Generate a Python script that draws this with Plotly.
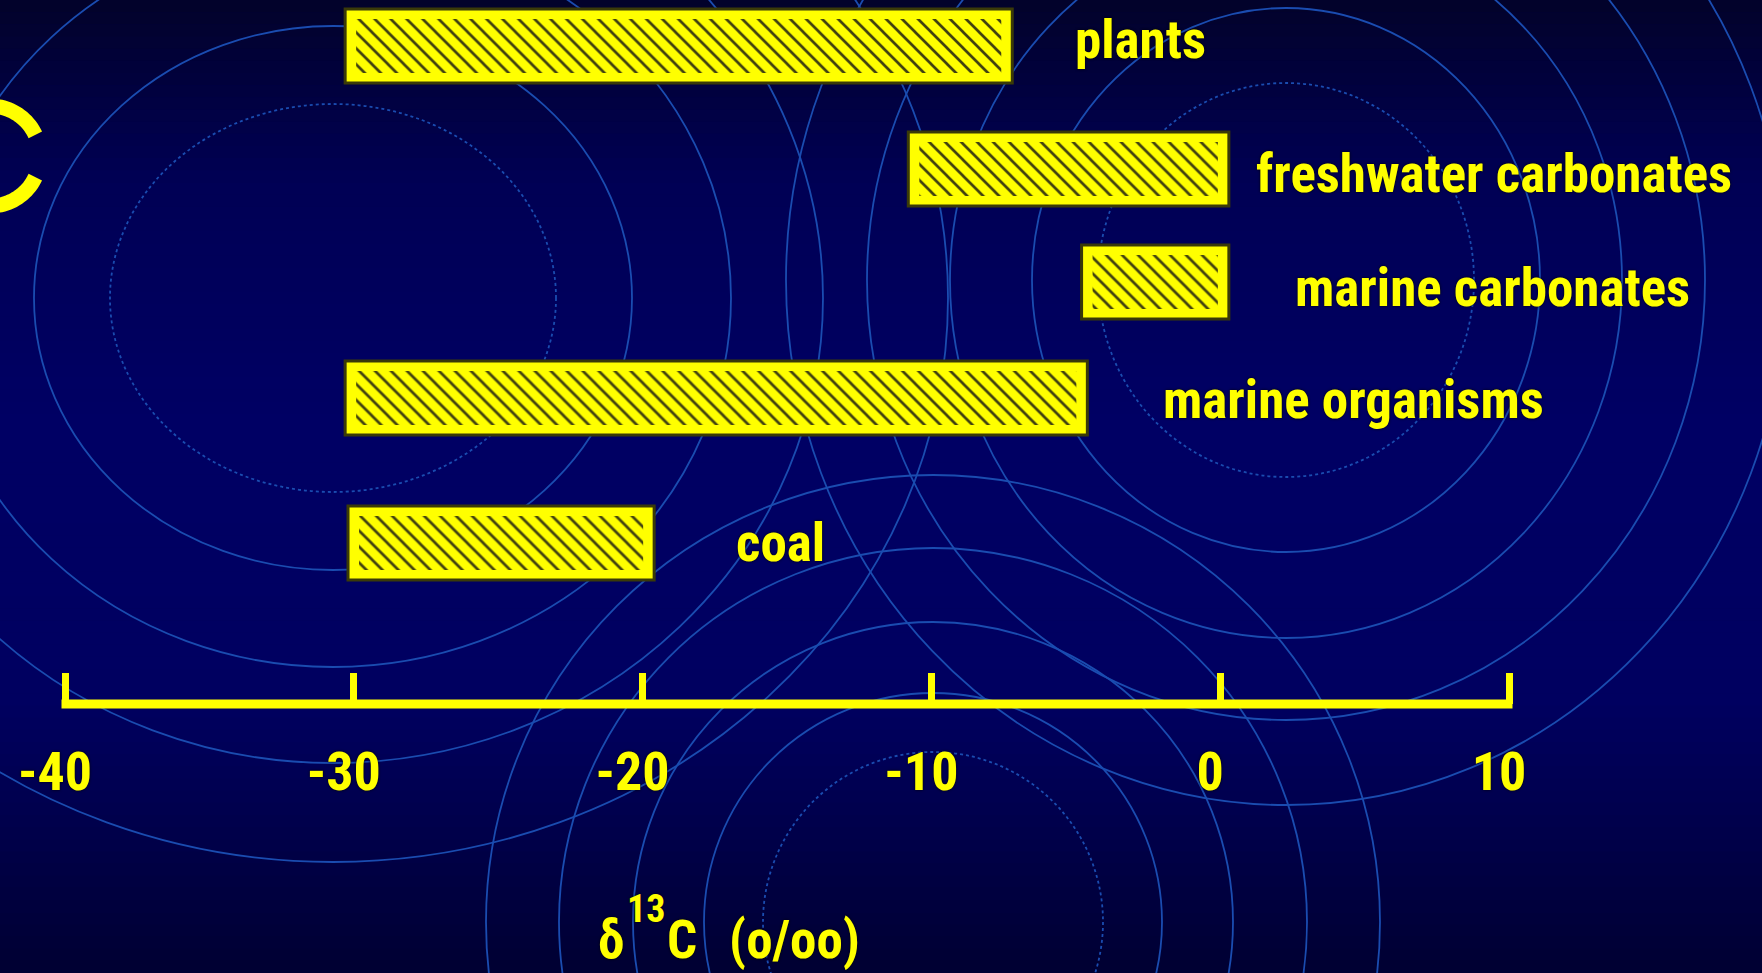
import math
import plotly.graph_objects as go

W, H = 1762, 973

# ---- data -------------------------------------------------------------
categories = ["plants", "freshwater carbonates", "marine carbonates",
              "marine organisms", "coal"]
delta_low = [-30.3, -10.8, -4.8, -30.3, -30.2]    # δ13C range, lower end (‰)
delta_high = [-7.2, 0.3, 0.3, -4.6, -19.6]        # δ13C range, upper end (‰)
tick_values = [-40, -30, -20, -10, 0, 10]
tick_labels = ["-40", "-30", "-20", "-10", "0", "10"]

# ---- layout constants (pixels from top-left of the page) -------------
row_center_px = [46, 169, 282, 398, 543]
bar_height_px = 74
label_left_px = [1077, 1258, 1297, 1165, 738]
label_mid_px = [42, 176, 290, 402, 545]
axis_left_px, axis_right_px, axis_y_px = 65, 1509, 704

YELLOW = "#ffff00"
FONT = "Roboto Condensed, Open Sans Condensed, Liberation Sans, sans-serif"
HALO = "0px 0px 3px rgba(0,0,0,0.95)"


def px(x):
    return x / W


def py(y):
    return 1 - y / H


fig = go.Figure()

# outer solid frame of each range bar
span = [h - l for l, h in zip(delta_low, delta_high)]
fig.add_trace(go.Bar(
    orientation="h", y=row_center_px, x=span, base=delta_low,
    width=bar_height_px, name="range",
    marker=dict(color=YELLOW, line=dict(color="#3a3a08", width=3)),
    hoverinfo="skip", showlegend=False,
))

# inner hatched panel
units_per_px = (tick_values[-1] - tick_values[0]) / (axis_right_px - axis_left_px)
inset = 11 * units_per_px
fig.add_trace(go.Bar(
    orientation="h", y=row_center_px,
    x=[s - 2 * inset for s in span],
    base=[l + inset for l in delta_low],
    width=bar_height_px - 20, name="hatch",
    marker=dict(
        color=YELLOW, line=dict(width=0),
        pattern=dict(shape="\\", size=11.3, solidity=0.24,
                     fgcolor="#404010", bgcolor=YELLOW, fillmode="replace"),
    ),
    hoverinfo="skip", showlegend=False,
))

shapes = []

# vertical background gradient
stops = [(0, (2, 2, 42)), (180, (0, 0, 84)), (420, (0, 0, 100)),
         (700, (0, 0, 96)), (973, (0, 0, 50))]
n_bands = 80
for i in range(n_bands):
    y0 = H * i / n_bands
    y1 = H * (i + 1) / n_bands
    ym = (y0 + y1) / 2
    for (a, ca), (b, cb) in zip(stops[:-1], stops[1:]):
        if a <= ym <= b:
            t = (ym - a) / (b - a)
            c = tuple(round(ca[k] + (cb[k] - ca[k]) * t) for k in range(3))
            break
    shapes.append(dict(type="rect", xref="paper", yref="paper", layer="below",
                       x0=0, x1=1, y0=py(y1 + 0.5), y1=py(y0),
                       fillcolor="rgb(%d,%d,%d)" % c, line=dict(width=0)))

# decorative concentric rings: (center, [(rx, ry, dotted), ...])
ring_sets = [
    ((333, 298), [(223, 194, True), (299, 272, False), (398, 369, False),
                  (490, 465, False), (615, 564, False)]),
    ((1286, 280), [(188, 197, True), (254, 272, False), (336, 358, False),
                   (419, 440, False), (500, 525, False)]),
    ((933, 922), [(170, 170, True), (229, 229, False), (300, 300, False),
                  (374, 374, False), (447, 447, False)]),
]
for (cx, cy), rings in ring_sets:
    for rx, ry, dotted in rings:
        shapes.append(dict(
            type="circle", xref="paper", yref="paper", layer="below",
            x0=px(cx - rx), x1=px(cx + rx), y0=py(cy + ry), y1=py(cy - ry),
            line=dict(color="rgb(26,76,176)", width=1.8,
                      dash="dot" if dotted else "solid"),
        ))

# partial yellow letter arc at the left edge
cx, cy, r = -10, 156, 50
pts = []
for k in range(0, 101):
    ang = math.radians(25 + (335 - 25) * k / 100)
    pts.append((cx + r * math.cos(ang), cy - r * math.sin(ang)))
path = "M " + " L ".join("%.5f,%.5f" % (px(x), py(y)) for x, y in pts)
shapes.append(dict(type="path", xref="paper", yref="paper", path=path,
                   line=dict(color=YELLOW, width=15)))

# scale bar (axis line) between the first and last tick
shapes.append(dict(type="line", xref="paper", yref="paper",
                   x0=px(axis_left_px - 3.5), x1=px(axis_right_px + 3.5),
                   y0=py(axis_y_px), y1=py(axis_y_px),
                   line=dict(color=YELLOW, width=9)))

annotations = []
for name, left, ym in zip(categories, label_left_px, label_mid_px):
    annotations.append(dict(
        text=name, xref="paper", yref="paper", x=px(left - 4), y=py(ym - 2),
        xanchor="left", yanchor="middle", showarrow=False,
        font=dict(family=FONT, size=53, color=YELLOW, weight="bold", shadow=HALO),
    ))

# axis caption: δ, raised 13, C, (o/oo)
caption_parts = [("δ", 596, 973, 53), ("13", 625, 933, 38),
                 ("C", 665, 973, 53), ("(o/oo)", 727, 973, 53)]
for txt, left, bottom, size in caption_parts:
    annotations.append(dict(
        text=txt, xref="paper", yref="paper",
        x=px(left), y=py(bottom), xanchor="left", yanchor="bottom", showarrow=False,
        font=dict(family=FONT, size=size, color=YELLOW, weight="bold", shadow=HALO),
    ))

# x axis: domain chosen so that -40 and 10 fall on the scale-bar ends
pad_units = 1.0
dom0 = axis_left_px - pad_units / units_per_px
dom1 = axis_right_px + pad_units / units_per_px

fig.update_layout(
    template="none",
    width=W, height=H,
    margin=dict(l=0, r=0, t=0, b=0, pad=0),
    paper_bgcolor="rgb(0,0,90)",
    plot_bgcolor="rgba(0,0,0,0)",
    barmode="overlay",
    showlegend=False,
    shapes=shapes,
    annotations=annotations,
    xaxis=dict(
        domain=[px(dom0), px(dom1)],
        range=[tick_values[0] - pad_units, tick_values[-1] + pad_units],
        anchor="free", position=py(axis_y_px), automargin=False,
        showgrid=False, zeroline=False, showline=False,
        ticks="inside", ticklen=31, tickwidth=7, tickcolor=YELLOW,
        tickvals=tick_values, ticktext=tick_labels,
        tickfont=dict(family=FONT, size=54, color=YELLOW, weight="bold", shadow=HALO),
        ticklabelstandoff=31, ticklabelshift=-10,
        fixedrange=True,
    ),
    yaxis=dict(domain=[0, 1], range=[H, 0], visible=False, fixedrange=True,
               automargin=False, showgrid=False, zeroline=False),
)

fig.write_html("out.html")
